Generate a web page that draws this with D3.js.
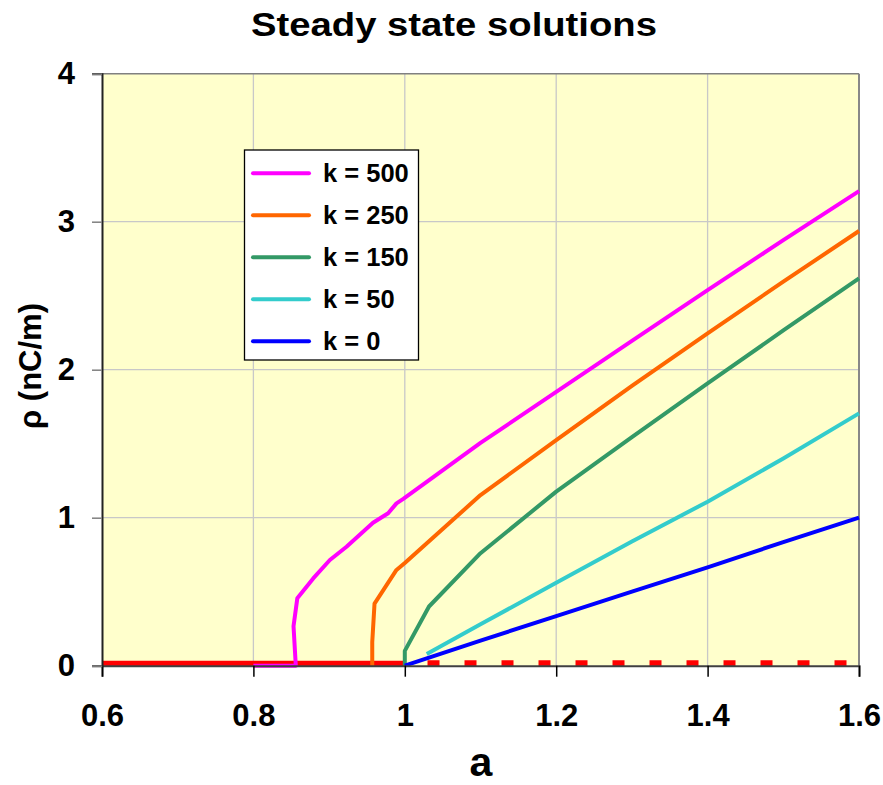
<!DOCTYPE html>
<html><head><meta charset="utf-8">
<script src="https://cdn.jsdelivr.net/npm/d3@7"></script>
<style>body{margin:0;background:#fff}svg{display:block}text{font-family:"Liberation Sans",Arial,sans-serif;font-weight:bold}</style>
</head><body><div id="c"></div>
<script>
const xTicks = [0.6, 0.8, 1.0, 1.2, 1.4, 1.6];
const yTicks = [0, 1, 2, 3, 4];
const seriesNames = ["k = 500", "k = 250", "k = 150", "k = 50", "k = 0"];
const seriesColors = ["#FF00FF", "#FF6600", "#339966", "#33CCCC", "#0000FF"];
const k500 = [[0.8,0],[0.856,0],[0.853,0.267],[0.858,0.455],[0.879,0.59],[0.901,0.714],[0.923,0.804],[0.958,0.966],[0.978,1.03],[0.989,1.097],[0.998,1.127],[1.1,1.505],[1.2,1.85],[1.3,2.195],[1.4,2.538],[1.5,2.875],[1.6,3.207]];
const k250 = [[0.957,0],[0.957,0.16],[0.96,0.42],[0.989,0.647],[1.0,0.694],[1.1,1.153],[1.2,1.524],[1.3,1.89],[1.4,2.246],[1.5,2.595],[1.6,2.937]];
const k150 = [[1.0,0],[1.0,0.10],[1.032,0.40],[1.1,0.76],[1.2,1.176],[1.3,1.545],[1.4,1.908],[1.5,2.265],[1.6,2.617]];
const k50 = [[1.029,0.079],[1.1,0.28],[1.2,0.56],[1.3,0.84],[1.4,1.108],[1.5,1.40],[1.6,1.705]];
const k0 = [[1.0,0],[1.1,0.17],[1.2,0.335],[1.3,0.50],[1.4,0.665],[1.5,0.835],[1.6,1.0]];
const trivialStable = [[0.6,0.014],[1.0,0.014]];
const trivialUnstable = [[1.03,0.016],[1.6,0.016]];
const seriesData = [k500, k250, k150, k50, k0];

const W = 883, H = 785;
const svg = d3.select("#c").append("svg").attr("width", W).attr("height", H);
const x = d3.scaleLinear().domain([0.6, 1.6]).range([102, 859]);
const y = d3.scaleLinear().domain([0, 4]).range([665.7, 73.7]);

svg.append("rect").attr("x", x(0.6)).attr("y", y(4)).attr("width", x(1.6)-x(0.6)).attr("height", y(0)-y(4)).attr("fill", "#FFFFCC");

// gridlines
svg.append("g").selectAll("line").data(xTicks.slice(1, -1)).join("line")
  .attr("x1", d => x(d)).attr("x2", d => x(d)).attr("y1", y(4)).attr("y2", y(0))
  .attr("stroke", "#C8C8C8").attr("stroke-width", 1.3);
svg.append("g").selectAll("line").data(yTicks.slice(1, -1)).join("line")
  .attr("y1", d => y(d)).attr("y2", d => y(d)).attr("x1", x(0.6)).attr("x2", x(1.6))
  .attr("stroke", "#C8C8C8").attr("stroke-width", 1.3);

// borders
svg.append("line").attr("x1", x(0.6)-10).attr("x2", x(1.6)).attr("y1", y(4)).attr("y2", y(4)).attr("stroke", "#808080").attr("stroke-width", 1.5);
svg.append("line").attr("x1", x(1.6)).attr("x2", x(1.6)).attr("y1", y(4)).attr("y2", y(0)).attr("stroke", "#888").attr("stroke-width", 2);

const line = d3.line().x(d => x(d[0])).y(d => y(d[1]));

svg.append("path").datum(trivialStable).attr("d", line).attr("fill", "none").attr("stroke", "#FF0000").attr("stroke-width", 6);
svg.append("path").datum(trivialUnstable).attr("d", line).attr("fill", "none").attr("stroke", "#FF0000").attr("stroke-width", 6).attr("stroke-dasharray", "12,25");

seriesData.forEach((s, i) => {
  svg.append("path").datum(s).attr("d", line).attr("fill", "none")
    .attr("stroke", seriesColors[i]).attr("stroke-width", 4).attr("stroke-linejoin", "round");
});

// axes
const xAxis = d3.axisBottom(x).tickValues(xTicks).tickSize(11).tickPadding(27).tickFormat(d3.format("~g"));
const gx = svg.append("g").attr("transform", `translate(0,${y(0)})`).call(xAxis);
gx.select(".domain").attr("stroke", "#404040").attr("stroke-width", 2);
gx.selectAll(".tick line").attr("stroke", "#000").attr("stroke-width", 1.5);
gx.selectAll("text").attr("font-size", 31).attr("fill", "#000").attr("font-family", "Liberation Sans, Arial, sans-serif").attr("font-weight", "bold");

const yAxis = d3.axisLeft(y).tickValues(yTicks).tickSize(10).tickPadding(17).tickFormat(d3.format("d"));
const gy = svg.append("g").attr("transform", `translate(${x(0.6)},0)`).call(yAxis);
gy.select(".domain").attr("stroke", "#222").attr("stroke-width", 2);
gy.selectAll(".tick line").attr("stroke", "#808080").attr("stroke-width", 1.5);
gy.selectAll("text").attr("font-size", 31).attr("fill", "#000").attr("font-family", "Liberation Sans, Arial, sans-serif").attr("font-weight", "bold");

// titles
svg.append("text").attr("x", 454).attr("y", 36).attr("text-anchor", "middle").attr("font-size", 34)
  .attr("textLength", 406).attr("lengthAdjust", "spacingAndGlyphs").text("Steady state solutions");
svg.append("text").attr("x", 481).attr("y", 776).attr("text-anchor", "middle").attr("font-size", 41).text("a");
svg.append("text").attr("transform", "translate(41,366) rotate(-90)").attr("text-anchor", "middle").attr("font-size", 31).text("ρ (nC/m)");

// legend
const lg = svg.append("g");
lg.append("rect").attr("x", 244.5).attr("y", 150).attr("width", 174).attr("height", 210).attr("fill", "#fff").attr("stroke", "#000").attr("stroke-width", 1.3);
seriesNames.forEach((n, i) => {
  const yy = 173.3 + i * 42;
  lg.append("line").attr("x1", 253).attr("x2", 309).attr("y1", yy).attr("y2", yy).attr("stroke", seriesColors[i]).attr("stroke-width", 4).attr("stroke-linecap", "round");
  lg.append("text").attr("x", 323).attr("y", yy + 9).attr("font-size", 25.5).text(n);
});
</script></body></html>
